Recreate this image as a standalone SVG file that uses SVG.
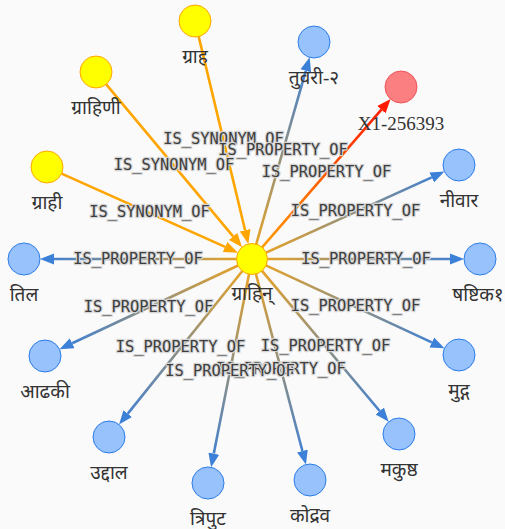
<svg xmlns="http://www.w3.org/2000/svg" width="505" height="529" viewBox="0 0 505 529">
  <style>
    .bg { fill: #fafafa; }
    .edge { fill: none; stroke-width: 2.6; }
    .syn { stroke: #ffa500; }
    .elabel { font-family: "DejaVu Sans Mono", monospace; font-size: 15.4px; fill: #3e3e3e; stroke: #d6d6d6; stroke-width: 2.4; paint-order: stroke; stroke-linejoin: round; text-anchor: middle; }
    .nlabel { font-family: "Liberation Serif", "Noto Sans", serif; font-size: 19px; fill: #333333; text-anchor: middle; }
    .blue { fill: #97c2fc; stroke: #2b7ce9; stroke-width: 1; }
    .yellow { fill: #ffff00; stroke: #ffa500; stroke-width: 1; }
    .red { fill: #fb7e81; stroke: #f0545a; stroke-width: 1; }
  </style>
  <defs>
    <marker id="arrow-blue" viewBox="0 -6 14 12" refX="0" refY="0" markerWidth="14" markerHeight="12" markerUnits="userSpaceOnUse" orient="auto">
      <path d="M0,-5.5 L14,0 L0,5.5 Z" fill="#3d80d8"/>
    </marker>
    <marker id="arrow-orange" viewBox="0 -6 14 12" refX="0" refY="0" markerWidth="14" markerHeight="12" markerUnits="userSpaceOnUse" orient="auto">
      <path d="M0,-5.5 L14,0 L0,5.5 Z" fill="#ffa500"/>
    </marker>
    <marker id="arrow-red" viewBox="0 -6 14 12" refX="0" refY="0" markerWidth="14" markerHeight="12" markerUnits="userSpaceOnUse" orient="auto">
      <path d="M0,-5.5 L14,0 L0,5.5 Z" fill="#ff1a00"/>
    </marker>
    <!-- gradients run from the hub centre to each target centre -->
    <linearGradient id="g-tuvari" gradientUnits="userSpaceOnUse" x1="252" y1="259" x2="314" y2="42"><stop offset="0" stop-color="#f2a51c"/><stop offset="1" stop-color="#2b7ce9"/></linearGradient>
    <linearGradient id="g-x1" gradientUnits="userSpaceOnUse" x1="252" y1="259" x2="401" y2="87"><stop offset="0" stop-color="#ffa500"/><stop offset="1" stop-color="#ff0a00"/></linearGradient>
    <linearGradient id="g-nivara" gradientUnits="userSpaceOnUse" x1="252" y1="259" x2="459" y2="165"><stop offset="0" stop-color="#f2a51c"/><stop offset="1" stop-color="#2b7ce9"/></linearGradient>
    <linearGradient id="g-shashtika" gradientUnits="userSpaceOnUse" x1="252" y1="259" x2="480" y2="259"><stop offset="0" stop-color="#f2a51c"/><stop offset="1" stop-color="#2b7ce9"/></linearGradient>
    <linearGradient id="g-mudga" gradientUnits="userSpaceOnUse" x1="252" y1="259" x2="459" y2="355"><stop offset="0" stop-color="#f2a51c"/><stop offset="1" stop-color="#2b7ce9"/></linearGradient>
    <linearGradient id="g-makushtha" gradientUnits="userSpaceOnUse" x1="252" y1="259" x2="399" y2="434"><stop offset="0" stop-color="#f2a51c"/><stop offset="1" stop-color="#2b7ce9"/></linearGradient>
    <linearGradient id="g-kodrava" gradientUnits="userSpaceOnUse" x1="252" y1="259" x2="310" y2="480"><stop offset="0" stop-color="#f2a51c"/><stop offset="1" stop-color="#2b7ce9"/></linearGradient>
    <linearGradient id="g-triputa" gradientUnits="userSpaceOnUse" x1="252" y1="259" x2="208" y2="483"><stop offset="0" stop-color="#f2a51c"/><stop offset="1" stop-color="#2b7ce9"/></linearGradient>
    <linearGradient id="g-uddala" gradientUnits="userSpaceOnUse" x1="252" y1="259" x2="109" y2="437"><stop offset="0" stop-color="#f2a51c"/><stop offset="1" stop-color="#2b7ce9"/></linearGradient>
    <linearGradient id="g-adhaki" gradientUnits="userSpaceOnUse" x1="252" y1="259" x2="45" y2="356"><stop offset="0" stop-color="#f2a51c"/><stop offset="1" stop-color="#2b7ce9"/></linearGradient>
    <linearGradient id="g-tila" gradientUnits="userSpaceOnUse" x1="252" y1="259" x2="24" y2="259"><stop offset="0" stop-color="#f2a51c"/><stop offset="1" stop-color="#2b7ce9"/></linearGradient>
  </defs>

  <rect class="bg" x="0" y="0" width="505" height="529"/>

  <g id="connectors">
    <!-- synonyms point into the hub -->
    <line class="edge syn" x1="198.7" y1="36.6" x2="245.1" y2="230.3" marker-end="url(#arrow-orange)"/>
    <line class="edge syn" x1="106.2" y1="84.3" x2="233.1" y2="236.4" marker-end="url(#arrow-orange)"/>
    <line class="edge syn" x1="61.6" y1="173.6" x2="225.1" y2="246.9" marker-end="url(#arrow-orange)"/>
    <!-- properties point out of the hub -->
    <line class="edge" stroke="url(#g-tila)" x1="252" y1="259" x2="54" y2="259" marker-end="url(#arrow-blue)"/>
    <line class="edge" stroke="url(#g-tuvari)" x1="252" y1="259" x2="305.8" y2="70.8" marker-end="url(#arrow-blue)"/>
    <line class="edge" stroke="url(#g-x1)" x1="252" y1="259" x2="381.4" y2="109.7" marker-end="url(#arrow-red)"/>
    <line class="edge" stroke="url(#g-nivara)" x1="252" y1="259" x2="431.7" y2="177.4" marker-end="url(#arrow-blue)"/>
    <line class="edge" stroke="url(#g-shashtika)" x1="252" y1="259" x2="450" y2="259" marker-end="url(#arrow-blue)"/>
    <line class="edge" stroke="url(#g-mudga)" x1="252" y1="259" x2="431.8" y2="342.4" marker-end="url(#arrow-blue)"/>
    <line class="edge" stroke="url(#g-makushtha)" x1="252" y1="259" x2="379.7" y2="411.0" marker-end="url(#arrow-blue)"/>
    <line class="edge" stroke="url(#g-kodrava)" x1="252" y1="259" x2="302.4" y2="451.0" marker-end="url(#arrow-blue)"/>
    <line class="edge" stroke="url(#g-triputa)" x1="252" y1="259" x2="213.8" y2="453.6" marker-end="url(#arrow-blue)"/>
    <line class="edge" stroke="url(#g-uddala)" x1="252" y1="259" x2="127.8" y2="413.6" marker-end="url(#arrow-blue)"/>
    <line class="edge" stroke="url(#g-adhaki)" x1="252" y1="259" x2="72.2" y2="343.3" marker-end="url(#arrow-blue)"/>

    <!-- edge labels at midpoints -->
    <text class="elabel" x="223.5" y="144">IS_SYNONYM_OF</text>
    <text class="elabel" x="174" y="169.5">IS_SYNONYM_OF</text>
    <text class="elabel" x="149.5" y="217">IS_SYNONYM_OF</text>
    <text class="elabel" x="138" y="264">IS_PROPERTY_OF</text>
    <text class="elabel" x="283" y="154.5">IS_PROPERTY_OF</text>
    <text class="elabel" x="326.5" y="177">IS_PROPERTY_OF</text>
    <text class="elabel" x="355.5" y="216">IS_PROPERTY_OF</text>
    <text class="elabel" x="366" y="264">IS_PROPERTY_OF</text>
    <text class="elabel" x="355.5" y="311">IS_PROPERTY_OF</text>
    <text class="elabel" x="325.5" y="350.5">IS_PROPERTY_OF</text>
    <text class="elabel" x="281" y="374">IS_PROPERTY_OF</text>
    <text class="elabel" x="230" y="375.5">IS_PROPERTY_OF</text>
    <text class="elabel" x="180.5" y="352">IS_PROPERTY_OF</text>
    <text class="elabel" x="148.5" y="311.5">IS_PROPERTY_OF</text>
  </g>

  <g id="node-grahin">
    <circle class="yellow" cx="252" cy="259" r="15.5"/>
    <text class="nlabel" x="252" y="300">ग्राहिन्</text>
  </g>
  <g id="node-graha">
    <circle class="yellow" cx="195" cy="21" r="16"/>
    <text class="nlabel" x="195" y="63">ग्राह</text>
  </g>
  <g id="node-grahini">
    <circle class="yellow" cx="96" cy="72" r="16"/>
    <text class="nlabel" x="96" y="114">ग्राहिणी</text>
  </g>
  <g id="node-grahi">
    <circle class="yellow" cx="47" cy="167" r="16"/>
    <text class="nlabel" x="47" y="209">ग्राही</text>
  </g>
  <g id="node-tila">
    <circle class="blue" cx="24" cy="259" r="16"/>
    <text class="nlabel" x="24" y="301">तिल</text>
  </g>
  <g id="node-tuvari">
    <circle class="blue" cx="314" cy="42" r="16"/>
    <text class="nlabel" x="314" y="84">तुवरी-२</text>
  </g>
  <g id="node-x1">
    <circle class="red" cx="401" cy="87" r="16"/>
    <text class="nlabel" x="401" y="130">X1-256393</text>
  </g>
  <g id="node-nivara">
    <circle class="blue" cx="459" cy="165" r="16"/>
    <text class="nlabel" x="459" y="207">नीवार</text>
  </g>
  <g id="node-shashtika">
    <circle class="blue" cx="480" cy="259" r="16"/>
    <text class="nlabel" x="478" y="301">षष्टिक१</text>
  </g>
  <g id="node-mudga">
    <circle class="blue" cx="459" cy="355" r="16"/>
    <text class="nlabel" x="459" y="397">मुद्ग</text>
  </g>
  <g id="node-makushtha">
    <circle class="blue" cx="399" cy="434" r="16"/>
    <text class="nlabel" x="399" y="476">मकुष्ठ</text>
  </g>
  <g id="node-kodrava">
    <circle class="blue" cx="310" cy="480" r="16"/>
    <text class="nlabel" x="310" y="522">कोद्रव</text>
  </g>
  <g id="node-triputa">
    <circle class="blue" cx="208" cy="483" r="16"/>
    <text class="nlabel" x="208" y="525">त्रिपुट</text>
  </g>
  <g id="node-uddala">
    <circle class="blue" cx="109" cy="437" r="16"/>
    <text class="nlabel" x="109" y="479">उद्दाल</text>
  </g>
  <g id="node-adhaki">
    <circle class="blue" cx="45" cy="356" r="16"/>
    <text class="nlabel" x="45" y="398">आढकी</text>
  </g>
</svg>
